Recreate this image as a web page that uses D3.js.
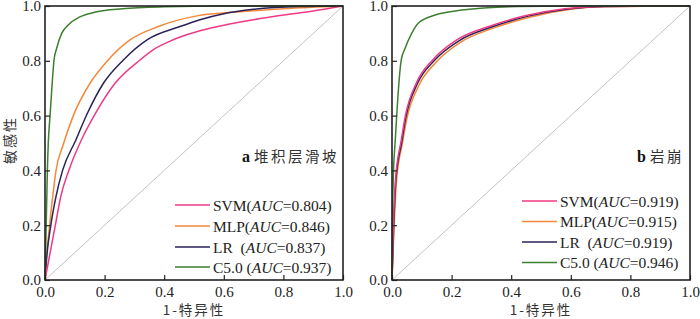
<!DOCTYPE html>
<html>
<head>
<meta charset="utf-8">
<script src="https://cdn.jsdelivr.net/npm/d3@7"></script>
<style>
  body { margin: 0; background: #fff; }
  svg { display: block; }
  .tick text { font-family: "Liberation Serif", "DejaVu Serif", serif; font-size: 15px; fill: #222; }
  .legend text { font-family: "Liberation Serif", serif; font-size: 15.5px; fill: #222; }
  .cjk { font-family: "Noto Sans CJK SC", sans-serif; fill: #333; }
</style>
</head>
<body>
<script>
var width = 700, height = 319;

// tick values shared by both axes
var tickValues = [0, 0.2, 0.4, 0.6, 0.8, 1.0];

// series names and legend labels
var seriesNames = ["SVM", "MLP", "LR", "C5.0"];
var seriesColors = ["#ee3a84", "#f5883a", "#2b2257", "#3c7f2e"];
var aucA = ["0.804", "0.846", "0.837", "0.937"];
var aucB = ["0.919", "0.915", "0.919", "0.946"];

// panel a: 堆积层滑坡, [1-specificity, sensitivity]
var aSVM = [[0,0],[0.015,0.087],[0.034,0.196],[0.053,0.305],[0.08,0.40],[0.126,0.52],[0.165,0.60],
  [0.235,0.718],[0.319,0.803],[0.37,0.845],[0.42,0.872],[0.47,0.893],[0.52,0.91],[0.6,0.93],
  [0.7,0.95],[0.8,0.967],[0.9,0.982],[1,1]];
var aMLP = [[0,0],[0.005,0.08],[0.015,0.196],[0.026,0.305],[0.037,0.40],[0.06,0.49],[0.095,0.60],
  [0.151,0.718],[0.212,0.803],[0.285,0.876],[0.38,0.925],[0.51,0.964],[0.63,0.977],[0.8,0.99],[1,1]];
var aLR = [[0,0],[0.006,0.087],[0.019,0.196],[0.037,0.305],[0.059,0.40],[0.104,0.512],[0.14,0.603],
  [0.196,0.718],[0.263,0.803],[0.345,0.878],[0.453,0.925],[0.52,0.95],[0.6,0.972],[0.7,0.988],[0.85,0.998],[1,1]];
var aC50 = [[0,0],[0.002,0.1],[0.004,0.2],[0.006,0.3],[0.008,0.4],[0.011,0.5],[0.017,0.6],[0.023,0.7],
  [0.03,0.8],[0.039,0.845],[0.056,0.9],[0.077,0.93],[0.117,0.96],[0.17,0.978],[0.26,0.99],[0.4,0.997],[0.6,1],[1,1]];

// panel b: 岩崩
var bSVM = [[0,0],[0.004,0.18],[0.012,0.37],[0.031,0.51],[0.045,0.6],[0.082,0.72],[0.138,0.805],
  [0.22,0.878],[0.33,0.927],[0.45,0.965],[0.58,0.99],[0.7,0.998],[1,1]];
var bMLP = [[0,0],[0.006,0.17],[0.015,0.36],[0.035,0.5],[0.05,0.59],[0.09,0.71],[0.148,0.795],
  [0.232,0.869],[0.345,0.921],[0.465,0.96],[0.6,0.988],[0.72,0.998],[1,1]];
var bLR = [[0,0],[0.005,0.175],[0.013,0.365],[0.033,0.505],[0.047,0.596],[0.085,0.716],[0.142,0.801],
  [0.226,0.874],[0.337,0.924],[0.457,0.963],[0.59,0.989],[0.71,0.998],[1,1]];
var bC50 = [[0,0],[0.001,0.18],[0.004,0.36],[0.011,0.512],[0.016,0.603],[0.024,0.73],[0.031,0.803],
  [0.044,0.846],[0.066,0.9],[0.088,0.937],[0.145,0.967],[0.234,0.985],[0.42,0.998],[0.6,1],[1,1]];

var svg = d3.select("body").append("svg")
  .attr("width", width)
  .attr("height", height);

var fmt = d3.format(".1f");

function drawPanel(opts) {
  var x = d3.scaleLinear().domain([0, 1]).range([opts.left, opts.right]),
      y = d3.scaleLinear().domain([0, 1]).range([280, 6]);

  var g = svg.append("g");

  // diagonal reference
  g.append("line")
    .attr("x1", x(0)).attr("y1", y(0))
    .attr("x2", x(1)).attr("y2", y(1))
    .attr("stroke", "#a8a8a8")
    .attr("stroke-width", 0.7);

  var line = d3.line()
    .x(function(d) { return x(d[0]); })
    .y(function(d) { return y(d[1]); })
    .curve(d3.curveMonotoneX);

  // draw order: MLP, LR, SVM, C5.0
  [1, 2, 0, 3].forEach(function(i) {
    g.append("path")
      .datum(opts.series[i])
      .attr("d", line)
      .attr("fill", "none")
      .attr("stroke", seriesColors[i])
      .attr("stroke-width", 1.5);
  });

  // axes with inward ticks
  var xAxis = g.append("g")
    .attr("transform", "translate(0," + y(0) + ")")
    .call(d3.axisBottom(x).tickValues(tickValues).tickFormat(fmt).tickSize(-5).tickPadding(6));
  var yAxis = g.append("g")
    .attr("transform", "translate(" + x(0) + ",0)")
    .call(d3.axisLeft(y).tickValues(tickValues).tickFormat(fmt).tickSize(-5).tickPadding(4));

  [xAxis, yAxis].forEach(function(a) {
    a.select(".domain").remove();
    a.selectAll(".tick line").attr("stroke", "#222").attr("stroke-width", 1.2);
    a.attr("font-family", null).attr("font-size", null);
  });

  // frame
  g.append("rect")
    .attr("x", x(0)).attr("y", y(1))
    .attr("width", x(1) - x(0)).attr("height", y(0) - y(1))
    .attr("fill", "none")
    .attr("stroke", "#222")
    .attr("stroke-width", 1.6);

  // x title
  g.append("text")
    .attr("class", "cjk")
    .attr("x", (x(0) + x(1)) / 2)
    .attr("y", 315)
    .attr("text-anchor", "middle")
    .style("font-size", "13.5px")
    .style("letter-spacing", "2px")
    .text("1-特异性");

  // panel label
  var pl = g.append("text")
    .attr("x", opts.labelX)
    .attr("y", 162)
    .attr("text-anchor", "end");
  pl.append("tspan")
    .style("font-family", "Liberation Serif, serif")
    .style("font-weight", "bold")
    .style("font-size", "16px")
    .attr("fill", "#111")
    .text(opts.letter + " ");
  pl.append("tspan")
    .attr("class", "cjk")
    .style("font-size", "14.5px")
    .style("letter-spacing", "2.5px")
    .text(opts.title);

  // legend
  var lg = g.append("g").attr("class", "legend");
  seriesNames.forEach(function(name, i) {
    var ly = opts.legendY[i];
    lg.append("line")
      .attr("x1", opts.legendX).attr("x2", opts.legendX + 35)
      .attr("y1", ly).attr("y2", ly)
      .attr("stroke", seriesColors[i])
      .attr("stroke-width", 1.5);
    var t = lg.append("text")
      .attr("x", opts.legendX + 38)
      .attr("y", ly + 5.5)
      .attr("xml:space", "preserve");
    var pre = name === "LR" ? "LR  (" : (name === "C5.0" ? "C5.0 (" : name + "(");
    t.append("tspan").text(pre);
    t.append("tspan").style("font-style", "italic").text("AUC");
    t.append("tspan").text("=" + opts.auc[i] + ")");
  });
}

drawPanel({
  left: 45, right: 343, labelX: 339, letter: "a", title: "堆积层滑坡",
  series: [aSVM, aMLP, aLR, aC50], auc: aucA,
  legendX: 175, legendY: [205, 226, 247, 267]
});
drawPanel({
  left: 392, right: 690, labelX: 684, letter: "b", title: "岩崩",
  series: [bSVM, bMLP, bLR, bC50], auc: aucB,
  legendX: 522, legendY: [201, 221.5, 242, 262.5]
});

// y title
svg.append("text")
  .attr("class", "cjk")
  .attr("transform", "translate(15,140) rotate(-90)")
  .attr("text-anchor", "middle")
  .style("font-size", "14px")
  .style("letter-spacing", "2px")
  .text("敏感性");
</script>
</body>
</html>
